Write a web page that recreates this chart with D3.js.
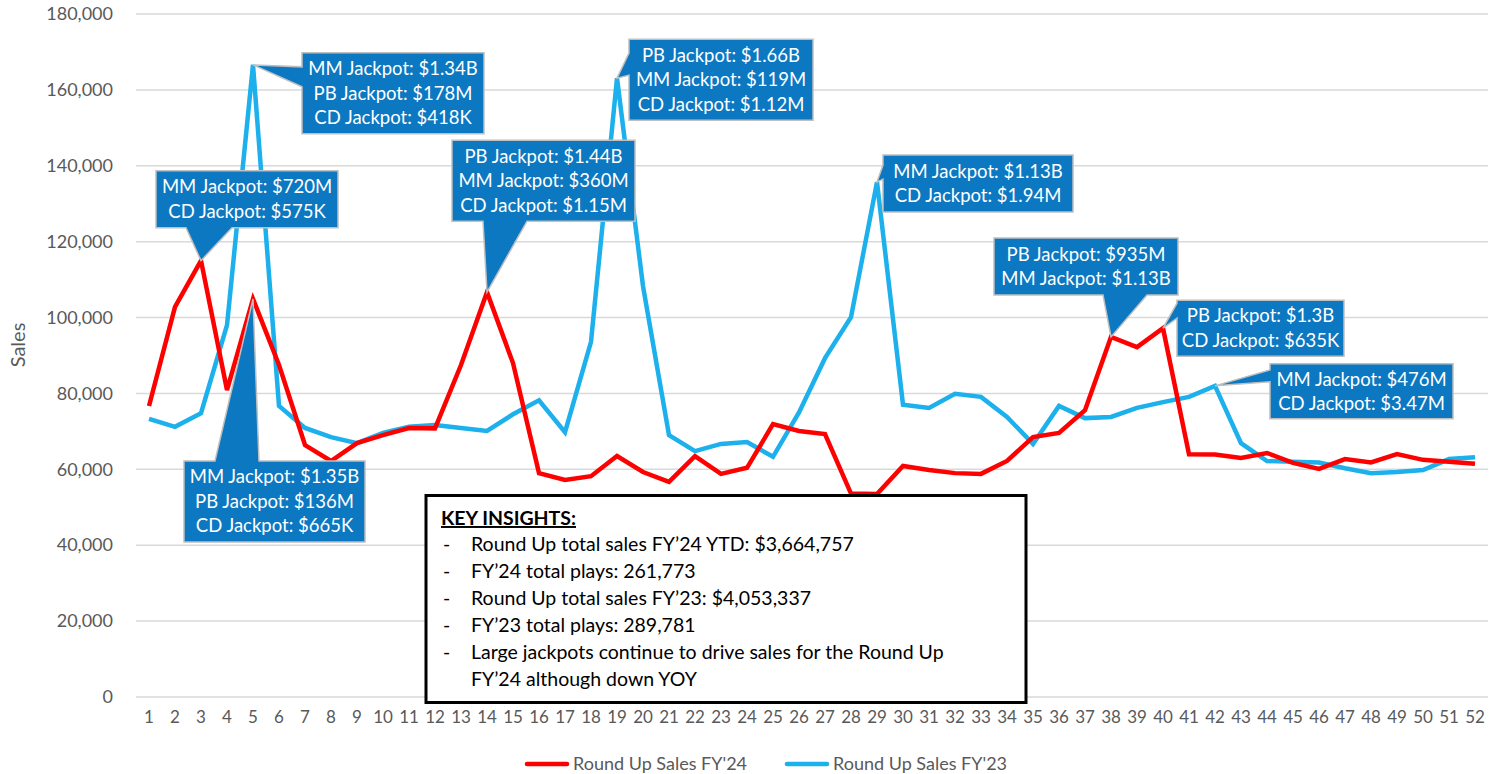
<!DOCTYPE html>
<html>
<head>
<meta charset="utf-8">
<script src="https://cdn.jsdelivr.net/npm/d3@7"></script>
<style>
  html, body { margin: 0; padding: 0; background: #fff; }
  text { font-family: Lato, "Open Sans", sans-serif; }
</style>
</head>
<body>
<div id="chart"></div>
<script>
// Weekly Round Up sales
const weeks = [1, 2, 3, 4, 5, 6, 7, 8, 9, 10, 11, 12, 13, 14, 15, 16, 17, 18, 19, 20, 21, 22, 23, 24, 25, 26,
  27, 28, 29, 30, 31, 32, 33, 34, 35, 36, 37, 38, 39, 40, 41, 42, 43, 44, 45, 46, 47, 48, 49, 50, 51, 52];

const salesFY24 = [76700, 102800, 115000, 80900, 104900, 87500, 66400, 62200, 66900, 69000, 70900, 70800,
  87500, 106700, 88000, 59000, 57200, 58200, 63500, 59300, 56700, 63500, 58800, 60400, 71900, 70100,
  69300, 53600, 53500, 60900, 59800, 59000, 58800, 62200, 68500, 69600, 75600, 94900, 92200, 97200,
  64000, 63900, 63000, 64300, 61700, 60100, 62700, 61800, 64000, 62500, 62000, 61500];

const salesFY23 = [73300, 71200, 74800, 98000, 166600, 76700, 70900, 68500, 66900, 69600, 71200, 71700,
  70900, 70100, 74500, 78200, 69800, 93600, 163100, 108300, 69000, 64800, 66700, 67200, 63300, 75000,
  89300, 100100, 135700, 77000, 76200, 79900, 79100, 73800, 66700, 76700, 73500, 73800, 76200, 77700,
  79100, 82000, 66900, 62200, 62000, 61800, 60300, 59000, 59300, 59800, 62700, 63200];

const yTicks = [0, 20000, 40000, 60000, 80000, 100000, 120000, 140000, 160000, 180000];

const seriesNames = ["Round Up Sales FY'24", "Round Up Sales FY'23"];

// Callout annotations: which point they mark and what they say
const calloutSeries = ["FY23", "FY24", "FY24", "FY23", "FY23", "FY24", "FY24", "FY23", "FY24"];
const calloutWeeks = [5, 3, 14, 19, 29, 38, 40, 42, 5];
const calloutLines = [
  ["MM Jackpot: $1.34B", "PB Jackpot: $178M", "CD Jackpot: $418K"],
  ["MM Jackpot: $720M", "CD Jackpot: $575K"],
  ["PB Jackpot: $1.44B", "MM Jackpot: $360M", "CD Jackpot: $1.15M"],
  ["PB Jackpot: $1.66B", "MM Jackpot: $119M", "CD Jackpot: $1.12M"],
  ["MM Jackpot: $1.13B", "CD Jackpot: $1.94M"],
  ["PB Jackpot: $935M", "MM Jackpot: $1.13B"],
  ["PB Jackpot: $1.3B", "CD Jackpot: $635K"],
  ["MM Jackpot: $476M", "CD Jackpot: $3.47M"],
  ["MM Jackpot: $1.35B", "PB Jackpot: $136M", "CD Jackpot: $665K"]
];

const insightLines = [
  "Round Up total sales FY’24 YTD: $3,664,757",
  "FY’24 total plays: 261,773",
  "Round Up total sales FY’23: $4,053,337",
  "FY’23 total plays: 289,781",
  "Large jackpots continue to drive sales for the Round Up",
  "FY’24 although down YOY"
];

// Callout box placement relative to the point (layout only)
const calloutLayout = [
  { dx: 49, dy: -12, w: 182, h: 81, side: "left", b1: 14, b2: 34 },
  { dx: -45, dy: -90, w: 182, h: 57, side: "bottom", b1: 30, b2: 76 },
  { dx: -35, dy: -152, w: 183, h: 81, side: "bottom", b1: 31, b2: 75 },
  { dx: 12, dy: -39, w: 184, h: 81, side: "left", b1: 14, b2: 36 },
  { dx: 6, dy: -27, w: 190, h: 57, side: "left", b1: 10, b2: 24 },
  { dx: -117, dy: -99, w: 184, h: 57, side: "bottom", b1: 109, b2: 153 },
  { dx: 14, dy: -28, w: 167, h: 56, side: "left", b1: 3, b2: 18 },
  { dx: 55, dy: -22, w: 183, h: 55, side: "left", b1: 6, b2: 18 },
  { dx: -69, dy: 162, w: 181, h: 81, side: "top", b1: 31, b2: 75 }
];

const W = 1494, H = 774;
const margin = { top: 14, right: 6, bottom: 77, left: 136 };
const width = W - margin.left - margin.right,
  height = H - margin.top - margin.bottom;

const colorFY24 = "#FF0000", colorFY23 = "#1CB0EC", calloutFill = "#0B78C1";

const svg = d3.select("#chart")
  .append("svg")
  .attr("width", W)
  .attr("height", H);

const g = svg.append("g")
  .attr("transform", `translate(${margin.left},${margin.top})`);

// Scales
const xScale = d3.scaleBand().domain(weeks).range([0, width]);
const xPos = d => xScale(d) + xScale.bandwidth() / 2;
const yScale = d3.scaleLinear().domain([0, 180000]).range([height, 0]);

// Gridlines
g.selectAll(".grid")
  .data(yTicks)
  .enter()
  .append("line")
  .attr("class", "grid")
  .attr("x1", 0)
  .attr("x2", width)
  .attr("y1", d => yScale(d))
  .attr("y2", d => yScale(d))
  .attr("stroke", "#D9D9D9")
  .attr("stroke-width", 1.5);

// Y axis labels
const yAxis = d3.axisLeft(yScale).tickValues(yTicks).tickFormat(d3.format(",")).tickSize(0).tickPadding(23);
g.append("g")
  .attr("class", "y-axis")
  .call(yAxis)
  .call(a => a.select(".domain").remove())
  .selectAll("text")
  .attr("fill", "#595959")
  .style("font-size", "18px");

// X axis labels
const xAxis = d3.axisBottom(xScale).tickSize(0).tickPadding(14);
g.append("g")
  .attr("class", "x-axis")
  .attr("transform", `translate(0,${height})`)
  .call(xAxis)
  .call(a => a.select(".domain").remove())
  .selectAll("text")
  .attr("fill", "#595959")
  .style("font-size", "17px");

// Y axis title
svg.append("text")
  .attr("transform", "rotate(-90)")
  .attr("x", -345)
  .attr("y", 25)
  .attr("text-anchor", "middle")
  .attr("fill", "#595959")
  .style("font-size", "20px")
  .text("Sales");

// Lines
const line = d3.line()
  .x((d, i) => xPos(weeks[i]))
  .y(d => yScale(d));

g.append("path")
  .datum(salesFY23)
  .attr("fill", "none")
  .attr("stroke", colorFY23)
  .attr("stroke-width", 4.5)
  .attr("stroke-linejoin", "miter")
  .attr("d", line);

g.append("path")
  .datum(salesFY24)
  .attr("fill", "none")
  .attr("stroke", colorFY24)
  .attr("stroke-width", 4.5)
  .attr("stroke-linejoin", "miter")
  .attr("d", line);

// Callouts
function calloutPath(tx, ty, c) {
  const x = tx + c.dx, y = ty + c.dy, w = c.w, h = c.h;
  if (c.side === "left") {
    return `M${x},${y}H${x + w}V${y + h}H${x}V${y + c.b2}L${tx},${ty}L${x},${y + c.b1}Z`;
  }
  if (c.side === "bottom") {
    return `M${x},${y}H${x + w}V${y + h}H${x + c.b2}L${tx},${ty}L${x + c.b1},${y + h}H${x}Z`;
  }
  return `M${x},${y}H${x + c.b1}L${tx},${ty}L${x + c.b2},${y}H${x + w}V${y + h}H${x}Z`;
}

calloutWeeks.forEach((wk, i) => {
  const series = calloutSeries[i] === "FY24" ? salesFY24 : salesFY23;
  const tx = xPos(wk), ty = yScale(series[weeks.indexOf(wk)]);
  const c = calloutLayout[i];
  const cg = g.append("g").attr("class", "callout");
  cg.append("path")
    .attr("d", calloutPath(tx, ty, c))
    .attr("fill", calloutFill)
    .attr("stroke", "#BFBFBF")
    .attr("stroke-width", 1.5);
  const lines = calloutLines[i];
  const lh = 24.5;
  const cy = ty + c.dy + c.h / 2;
  cg.selectAll("text")
    .data(lines)
    .enter()
    .append("text")
    .attr("x", tx + c.dx + c.w / 2)
    .attr("y", (d, j) => cy + (j - (lines.length - 1) / 2) * lh)
    .attr("dy", "0.35em")
    .attr("text-anchor", "middle")
    .attr("fill", "#fff")
    .style("font-size", "18.5px")
    .text(d => d);
});

// Key insights box
const box = svg.append("g").attr("class", "insights");
box.append("rect")
  .attr("x", 426)
  .attr("y", 495.5)
  .attr("width", 600)
  .attr("height", 207)
  .attr("fill", "#fff")
  .attr("stroke", "#000")
  .attr("stroke-width", 3);

box.append("text")
  .attr("x", 441)
  .attr("y", 525)
  .attr("fill", "#000")
  .style("font-size", "19.5px")
  .style("font-weight", "bold")
  .style("text-decoration", "underline")
  .text("KEY INSIGHTS:");

const bulletY = [551, 578, 605, 632, 659, 686];
insightLines.forEach((t, i) => {
  if (i !== 5) {
    box.append("text")
      .attr("x", 443)
      .attr("y", bulletY[i])
      .attr("fill", "#000")
      .style("font-size", "19.5px")
      .text("-");
  }
  box.append("text")
    .attr("x", 471)
    .attr("y", bulletY[i])
    .attr("fill", "#000")
    .style("font-size", "19.5px")
    .text(t);
});

// Legend
const legend = svg.append("g").attr("class", "legend");
const legendX = [527, 787];
[colorFY24, colorFY23].forEach((col, i) => {
  legend.append("line")
    .attr("x1", legendX[i])
    .attr("x2", legendX[i] + 40)
    .attr("y1", 764)
    .attr("y2", 764)
    .attr("stroke", col)
    .attr("stroke-width", 4.5)
    .attr("stroke-linecap", "round");
  legend.append("text")
    .attr("x", legendX[i] + 46)
    .attr("y", 764)
    .attr("dy", "0.35em")
    .attr("fill", "#595959")
    .style("font-size", "18px")
    .text(seriesNames[i]);
});
</script>
</body>
</html>
